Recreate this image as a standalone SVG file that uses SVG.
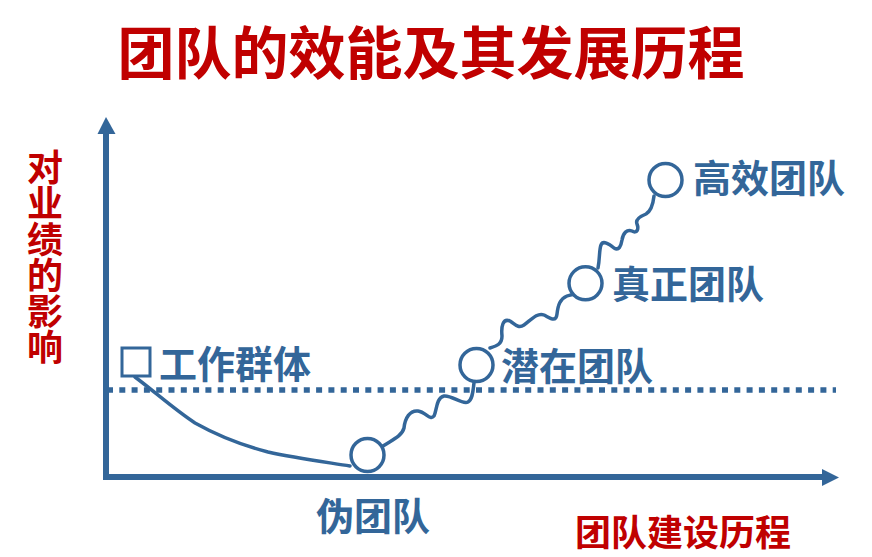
<svg xmlns="http://www.w3.org/2000/svg" width="872" height="557" viewBox="0 0 872 557">
  <style>
    .red { fill: #C00000; font-family: "Noto Sans CJK SC", "Noto Sans", sans-serif; font-weight: bold; }
    .blue { fill: #336699; font-family: "Noto Sans CJK SC", "Noto Sans", sans-serif; font-weight: bold; font-size: 38px; }
    .ln { fill: none; stroke: #336699; stroke-linecap: round; stroke-linejoin: round; stroke-width: 3.5; }
    .node { fill: #ffffff; stroke: #336699; stroke-width: 3.5; }
  </style>
  <rect width="872" height="557" fill="#ffffff"/>

  <g id="title">
    <text class="red" x="431" y="48.5" font-size="57" text-anchor="middle" dominant-baseline="central">团队的效能及其发展历程</text>
  </g>

  <g id="y-label">
    <text class="red" x="45" y="149" font-size="36" writing-mode="tb">对业绩的影响</text>
  </g>

  <g id="x-label">
    <text class="red" x="683" y="530" font-size="36" text-anchor="middle" dominant-baseline="central">团队建设历程</text>
  </g>

  <g id="axes">
    <line x1="106" y1="480" x2="106" y2="134" stroke="#336699" stroke-width="6"/>
    <path d="M97.5,134 L106,117 L115.5,134 Z" fill="#336699"/>
    <line x1="103" y1="477" x2="822" y2="477" stroke="#336699" stroke-width="6"/>
    <path d="M822,469 L839,477.5 L822,486 Z" fill="#336699"/>
    <line x1="107" y1="390" x2="836" y2="390" stroke="#336699" stroke-width="5.3" stroke-dasharray="6 6.3"/>
  </g>

  <g id="connectors">
    <path class="ln" d="M135,377 C155,392 175,410 195,423 C220,437 245,446 268,452 C295,458 325,462 350,466"/>
    <path class="ln" d="M383,446 C392,440 402,436 404,428 C405,418 410,410 418,411 C426,412 430,421 434,416 C437,410 436,398 444,396 C452,395 462,405 468,402 C473,399 473,390 474,383"/>
    <path class="ln" d="M490,348 C497,346 502,344 502,336 C501,326 503,318 510,321 C515,324 518,329 524,325 C530,321 537,312 544,315 C550,318 556,323 557,314 C558,305 560,299 567,296 C572,294 576,294 579,294"/>
    <path class="ln" d="M598,268 C600,258 599,250 601,245 C603,240 609,244 614,248 C619,251 621,246 622,240 C623,233 627,229 632,231 C637,234 639,229 637,224 C635,219 641,216 646,214 C651,211 653,205 654,196"/>
  </g>

  <g id="node-group">
    <rect x="122" y="348" width="28" height="28" fill="none" stroke="#336699" stroke-width="3"/>
    <text class="blue" x="159" y="361.5" dominant-baseline="central">工作群体</text>
  </g>

  <g id="node-pseudo">
    <circle class="node" cx="367.5" cy="455" r="16.5"/>
    <text class="blue" x="373" y="513.5" font-size="37" text-anchor="middle" dominant-baseline="central">伪团队</text>
  </g>

  <g id="node-potential">
    <circle class="node" cx="476.5" cy="365" r="16.5"/>
    <text class="blue" x="501" y="363.5" dominant-baseline="central">潜在团队</text>
  </g>

  <g id="node-real">
    <circle class="node" cx="585.5" cy="283.3" r="16.5"/>
    <text class="blue" x="612" y="281.5" dominant-baseline="central">真正团队</text>
  </g>

  <g id="node-high">
    <circle class="node" cx="665.5" cy="180" r="16.5"/>
    <text class="blue" x="693" y="175.5" dominant-baseline="central">高效团队</text>
  </g>
</svg>
